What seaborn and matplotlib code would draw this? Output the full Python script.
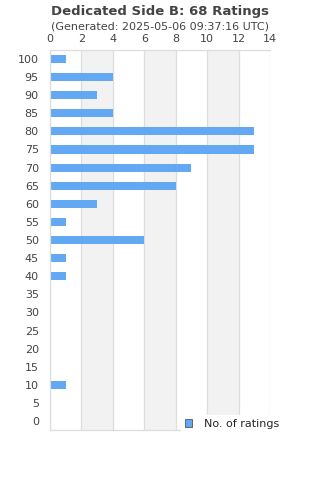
import pandas as pd
import seaborn as sns
import matplotlib.pyplot as plt

scores = [100, 95, 90, 85, 80, 75, 70, 65, 60, 55, 50, 45, 40, 35, 30, 25, 20, 15, 10, 5, 0]
counts = [1, 4, 3, 4, 13, 13, 9, 8, 3, 1, 6, 1, 1, 0, 0, 0, 0, 0, 1, 0, 0]
title = "Dedicated Side B: 68 Ratings"
subtitle = "(Generated: 2025-05-06 09:37:16 UTC)"

df = pd.DataFrame({"score": [str(s) for s in scores], "count": counts})

sns.set_style("white")
plt.rcParams['font.family'] = ['DejaVu Sans']

fig = plt.figure(figsize=(3.2, 4.8), dpi=100)
ax = fig.add_axes([0.156, 0.104, 0.688, 0.792])

# alternating background bands
for x0 in range(2, 14, 4):
    ax.axvspan(x0, x0 + 2, color="#f2f2f2", zorder=0, lw=0)
for x in range(0, 15, 2):
    ax.axvline(x, color="#dddddd", lw=0.9, zorder=0.5)

sns.barplot(data=df, x="count", y="score", order=df["score"], orient="h",
            color="#62a8f2", saturation=1, width=0.45, ax=ax, zorder=2,
            linewidth=0, label="No. of ratings")

ax.set_xlim(0, 14)
ax.set_xticks(range(0, 15, 2))
ax.xaxis.tick_top()
ax.tick_params(axis="x", length=0, pad=4, labelsize=8, colors="#444444")
ax.tick_params(axis="y", length=0, pad=8, labelsize=8, colors="#444444")
ax.set_xlabel("")
ax.set_ylabel("")
for side in ["left", "bottom", "top"]:
    ax.spines[side].set_color("#dddddd")
    ax.spines[side].set_linewidth(0.9)
ax.spines["right"].set_visible(False)

leg = ax.legend(loc="lower right", bbox_to_anchor=(1.08, -0.02), frameon=True,
                fontsize=8, handlelength=0.7, handleheight=0.7, borderpad=0.3,
                handletextpad=1.0)
leg.get_frame().set_edgecolor("white")
leg.get_frame().set_alpha(1)
for h in leg.legend_handles:
    h.set_edgecolor("#555555")
    h.set_linewidth(0.6)

fig.text(0.5, 0.976, title, ha="center", va="center", fontsize=9.5,
         fontweight="bold", color="#444444")
fig.text(0.5, 0.945, subtitle, ha="center", va="center", fontsize=8,
         color="#444444")

fig.savefig("out.png", dpi=100)
